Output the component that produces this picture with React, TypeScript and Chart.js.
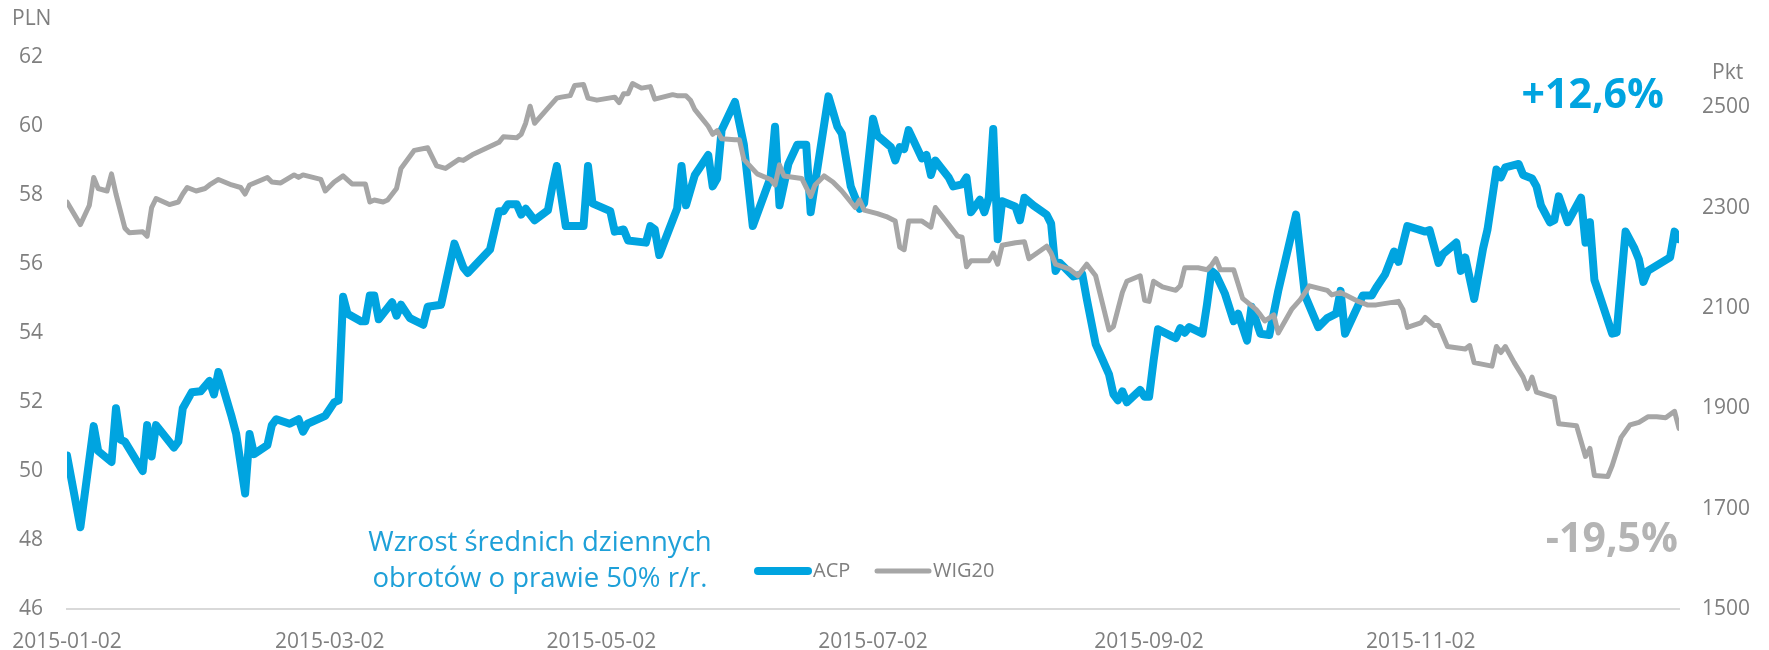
import { useEffect, useRef } from 'react';
import { Chart, registerables } from 'chart.js';

Chart.register(...registerables);

// ---- data ----
const startDateUTC = Date.UTC(2015, 0, 2);
const xTickDays = [0, 59, 120, 181, 243, 304];
const lastDay = 362;
const leftTicks = [46, 48, 50, 52, 54, 56, 58, 60, 62];
const rightTicks = [1500, 1700, 1900, 2100, 2300, 2500];

const acpDays = [0, 3, 6, 7, 10, 11, 12, 13, 17, 18, 19, 20, 24, 25, 26, 28, 30, 32, 33, 34, 37, 38, 40, 41, 42, 45, 46, 47, 50, 52, 53, 54, 58, 60, 61, 62, 63, 66, 67, 68, 69, 70, 73, 74, 75, 77, 80, 81, 84, 87, 89, 90, 95, 97, 98, 99, 101, 102, 103, 105, 108, 109, 110, 112, 116, 117, 118, 122, 123, 125, 126, 130, 131, 132, 133, 137, 138, 139, 141, 144, 145, 146, 147, 150, 152, 154, 158, 159, 160, 162, 164, 166, 167, 171, 173, 174, 176, 178, 179, 181, 182, 185, 186, 187, 188, 189, 192, 193, 194, 195, 198, 199, 201, 202, 203, 205, 206, 207, 208, 209, 210, 213, 214, 215, 217, 220, 221, 222, 223, 226, 228, 229, 231, 234, 235, 236, 237, 238, 241, 242, 243, 244, 245, 248, 249, 250, 251, 252, 255, 256, 257, 258, 260, 262, 263, 265, 266, 268, 270, 272, 276, 278, 281, 283, 285, 286, 287, 291, 293, 294, 296, 298, 299, 301, 305, 306, 308, 309, 312, 313, 314, 316, 318, 319, 321, 322, 323, 326, 327, 329, 330, 331, 333, 334, 335, 337, 340, 341, 342, 343, 347, 348, 350, 352, 353, 354, 355, 360, 361, 362];
const acpValues = [50.45, 48.37, 51.3, 50.58, 50.26, 51.82, 50.91, 50.85, 50.0, 51.33, 50.42, 51.33, 50.68, 50.85, 51.82, 52.28, 52.31, 52.61, 52.22, 52.87, 51.56, 51.07, 49.35, 51.07, 50.49, 50.75, 51.33, 51.5, 51.37, 51.5, 51.14, 51.37, 51.6, 51.99, 52.05, 55.05, 54.56, 54.34, 54.34, 55.09, 55.09, 54.4, 54.89, 54.5, 54.82, 54.43, 54.24, 54.76, 54.82, 56.59, 55.9, 55.74, 56.42, 57.53, 57.53, 57.73, 57.73, 57.43, 57.6, 57.27, 57.56, 58.25, 58.84, 57.1, 57.1, 58.84, 57.76, 57.53, 56.94, 57.0, 56.68, 56.62, 57.1, 57.0, 56.26, 57.6, 58.84, 57.7, 58.58, 59.16, 58.25, 58.48, 59.88, 60.7, 59.46, 57.1, 58.51, 59.98, 57.7, 58.9, 59.46, 59.46, 57.5, 60.86, 59.98, 59.78, 58.25, 57.6, 57.76, 60.21, 59.72, 59.39, 59.0, 59.39, 59.33, 59.88, 59.06, 59.16, 58.58, 59.0, 58.51, 58.25, 58.31, 58.51, 57.5, 57.86, 57.5, 57.92, 59.91, 56.72, 57.82, 57.66, 57.27, 57.92, 57.7, 57.43, 57.17, 55.8, 56.03, 55.64, 55.7, 54.99, 53.68, 52.8, 52.22, 52.05, 52.31, 51.99, 52.35, 52.15, 52.15, 53.19, 54.11, 53.91, 53.85, 54.14, 54.01, 54.17, 53.98, 54.82, 55.8, 55.7, 55.15, 54.34, 54.56, 53.78, 54.76, 53.98, 53.94, 55.22, 57.43, 55.09, 54.17, 54.43, 54.56, 55.22, 53.98, 55.09, 55.09, 55.31, 55.7, 56.36, 56.06, 57.1, 56.94, 56.98, 56.03, 56.29, 56.62, 55.8, 56.19, 54.99, 56.45, 57.0, 58.74, 58.51, 58.8, 58.9, 58.58, 58.48, 58.25, 57.7, 57.21, 57.27, 57.96, 57.21, 57.92, 56.62, 57.21, 55.54, 53.98, 54.01, 56.94, 56.45, 56.13, 55.48, 55.8, 56.19, 56.94, 56.72];

const wigDays = [0, 3, 5, 6, 7, 9, 10, 11, 13, 14, 17, 18, 19, 20, 23, 25, 26, 27, 29, 31, 32, 34, 37, 39, 40, 41, 45, 46, 48, 51, 52, 53, 57, 58, 60, 62, 64, 67, 68, 69, 71, 72, 74, 75, 78, 81, 83, 85, 88, 89, 91, 97, 98, 101, 102, 103, 104, 105, 108, 110, 111, 113, 114, 116, 117, 119, 123, 124, 125, 126, 127, 129, 131, 132, 136, 137, 139, 140, 141, 144, 145, 146, 147, 150, 151, 152, 155, 158, 159, 160, 161, 165, 167, 168, 170, 172, 174, 177, 178, 179, 182, 184, 186, 187, 188, 189, 192, 194, 195, 198, 200, 201, 202, 203, 207, 208, 209, 210, 213, 215, 216, 220, 221, 222, 225, 227, 229, 231, 234, 235, 237, 238, 241, 242, 243, 244, 246, 249, 250, 251, 254, 256, 257, 258, 259, 262, 264, 267, 268, 269, 271, 272, 275, 277, 279, 283, 284, 286, 287, 290, 292, 294, 299, 300, 301, 304, 305, 307, 308, 310, 314, 315, 316, 320, 321, 322, 323, 325, 327, 328, 329, 330, 334, 335, 337, 339, 341, 342, 343, 346, 347, 349, 351, 353, 355, 357, 359, 361, 362];
const wigValues = [2311, 2266, 2304, 2360, 2338, 2333, 2367, 2327, 2259, 2250, 2252, 2243, 2300, 2318, 2306, 2311, 2327, 2340, 2333, 2338, 2345, 2356, 2345, 2340, 2327, 2345, 2360, 2351, 2349, 2365, 2360, 2365, 2356, 2333, 2351, 2363, 2347, 2347, 2311, 2315, 2311, 2315, 2338, 2378, 2414, 2419, 2383, 2378, 2396, 2394, 2405, 2430, 2441, 2439, 2446, 2468, 2502, 2468, 2498, 2518, 2520, 2523, 2543, 2545, 2518, 2514, 2520, 2509, 2527, 2527, 2547, 2538, 2541, 2516, 2525, 2523, 2523, 2514, 2495, 2462, 2446, 2453, 2437, 2435, 2435, 2396, 2367, 2356, 2345, 2385, 2363, 2358, 2322, 2345, 2363, 2351, 2333, 2300, 2315, 2295, 2288, 2282, 2273, 2221, 2216, 2273, 2273, 2261, 2300, 2266, 2243, 2241, 2182, 2194, 2194, 2209, 2187, 2225, 2230, 2232, 2198, 2223, 2209, 2187, 2178, 2164, 2187, 2164, 2056, 2063, 2131, 2153, 2164, 2115, 2113, 2153, 2142, 2135, 2144, 2180, 2180, 2176, 2185, 2198, 2176, 2176, 2119, 2097, 2086, 2074, 2086, 2050, 2097, 2117, 2144, 2135, 2126, 2131, 2126, 2113, 2106, 2106, 2113, 2097, 2061, 2070, 2081, 2065, 2065, 2023, 2018, 2025, 1991, 1984, 2023, 2011, 2023, 1991, 1962, 1939, 1962, 1932, 1921, 1869, 1867, 1865, 1804, 1820, 1766, 1764, 1786, 1842, 1867, 1872, 1883, 1883, 1881, 1894, 1860];

const seriesNames = ['ACP', 'WIG20'];
const leftUnit = 'PLN';
const rightUnit = 'Pkt';
const acpChange = '+12,6%';
const wigChange = '-19,5%';
const noteLines = ['Wzrost średnich dziennych', 'obrotów o prawie 50% r/r.'];

// ---- style ----
const BLUE = '#00a4e0';
const GRAY = '#a6a6a6';
const LABEL = '#7f7f7f';
const FONT = '"Open Sans", "Noto Sans", sans-serif';

const dayToLabel = (d: number) =>
  new Date(startDateUTC + d * 86400000).toISOString().slice(0, 10);

const overlayPlugin = {
  id: 'overlayText',
  afterDraw(chart: any) {
    const ctx = chart.ctx as CanvasRenderingContext2D;
    ctx.save();
    // axis units
    ctx.fillStyle = LABEL;
    ctx.font = `21px ${FONT}`;
    ctx.textBaseline = 'middle';
    ctx.textAlign = 'left';
    ctx.fillText(leftUnit, 12, 19);
    ctx.fillText(rightUnit, 1712, 73);

    // change labels
    ctx.font = `bold 41px ${FONT}`;
    ctx.textBaseline = 'alphabetic';
    ctx.textAlign = 'right';
    ctx.fillStyle = BLUE;
    ctx.fillText(acpChange, 1664, 108);
    ctx.fillStyle = '#b4b4b4';
    ctx.fillText(wigChange, 1678, 552);

    // note
    ctx.font = `27.5px ${FONT}`;
    ctx.textAlign = 'center';
    ctx.fillStyle = '#1ea0d8';
    ctx.fillText(noteLines[0], 540, 551);
    ctx.fillText(noteLines[1], 540, 587);

    // legend
    ctx.lineCap = 'round';
    ctx.strokeStyle = BLUE;
    ctx.lineWidth = 8;
    ctx.beginPath();
    ctx.moveTo(758, 571);
    ctx.lineTo(808, 571);
    ctx.stroke();
    ctx.strokeStyle = GRAY;
    ctx.lineWidth = 5;
    ctx.beginPath();
    ctx.moveTo(877, 571);
    ctx.lineTo(929, 571);
    ctx.stroke();
    ctx.font = `20px ${FONT}`;
    ctx.textAlign = 'left';
    ctx.textBaseline = 'middle';
    ctx.fillStyle = LABEL;
    ctx.fillText(seriesNames[0], 813, 571);
    ctx.fillText(seriesNames[1], 933, 571);
    ctx.restore();
  },
};

export default function App() {
  const canvasRef = useRef<HTMLCanvasElement | null>(null);

  useEffect(() => {
    document.body.style.margin = '0';
    const canvas = canvasRef.current;
    if (!canvas) return;
    const chart = new Chart(canvas, {
      type: 'line',
      data: {
        datasets: [
          {
            label: seriesNames[0],
            data: acpDays.map((d, i) => ({ x: d, y: acpValues[i] })),
            borderColor: BLUE,
            backgroundColor: BLUE,
            borderWidth: 8,
            pointRadius: 0,
            tension: 0,
            borderJoinStyle: 'round',
            borderCapStyle: 'round',
            yAxisID: 'y',
            order: 1,
          },
          {
            label: seriesNames[1],
            data: wigDays.map((d, i) => ({ x: d, y: wigValues[i] })),
            borderColor: GRAY,
            backgroundColor: GRAY,
            borderWidth: 5,
            pointRadius: 0,
            tension: 0,
            borderJoinStyle: 'round',
            borderCapStyle: 'round',
            yAxisID: 'y1',
            order: 0,
          },
        ],
      },
      options: {
        responsive: false,
        animation: false,
        devicePixelRatio: 1,
        layout: { padding: { top: 57, left: 0, right: 0, bottom: 0 } },
        plugins: {
          legend: { display: false },
          tooltip: { enabled: false },
          title: { display: false },
        },
        scales: {
          x: {
            type: 'linear',
            min: 0,
            max: lastDay,
            grid: { display: false, drawTicks: false },
            border: { display: true, color: '#d9d9d9', width: 2 },
            afterBuildTicks: (s: any) => {
              s.ticks = xTickDays.map((v) => ({ value: v }));
            },
            afterFit: (s: any) => {
              s.height = 41;
              s.paddingLeft = 0;
              s.paddingRight = 0;
            },
            ticks: {
              autoSkip: false,
              maxRotation: 0,
              padding: 20,
              color: LABEL,
              font: { family: FONT, size: 21 },
              callback: (v: any) => dayToLabel(Number(v)),
            },
          },
          y: {
            position: 'left',
            min: 46,
            max: 62,
            grid: { display: false, drawTicks: false },
            border: { display: false },
            afterBuildTicks: (s: any) => {
              s.ticks = leftTicks.map((v) => ({ value: v }));
            },
            afterFit: (s: any) => {
              s.width = 67;
              s.paddingTop = 0;
              s.paddingBottom = 0;
            },
            ticks: {
              padding: 24,
              color: LABEL,
              font: { family: FONT, size: 21 },
              callback: (v: any) => String(v),
            },
          },
          y1: {
            position: 'right',
            min: 1500,
            max: 2600,
            grid: { display: false, drawTicks: false },
            border: { display: false },
            afterBuildTicks: (s: any) => {
              s.ticks = rightTicks.map((v) => ({ value: v }));
            },
            afterFit: (s: any) => {
              s.width = 90;
              s.paddingTop = 0;
              s.paddingBottom = 0;
            },
            ticks: {
              padding: 23,
              color: LABEL,
              font: { family: FONT, size: 21 },
              callback: (v: any) => String(v),
            },
          },
        },
      },
      plugins: [overlayPlugin],
    } as any);
    return () => chart.destroy();
  }, []);

  return (
    <div style={{ width: 1769, height: 650, position: 'relative' }}>
      <canvas ref={canvasRef} width={1769} height={650} />
    </div>
  );
}
